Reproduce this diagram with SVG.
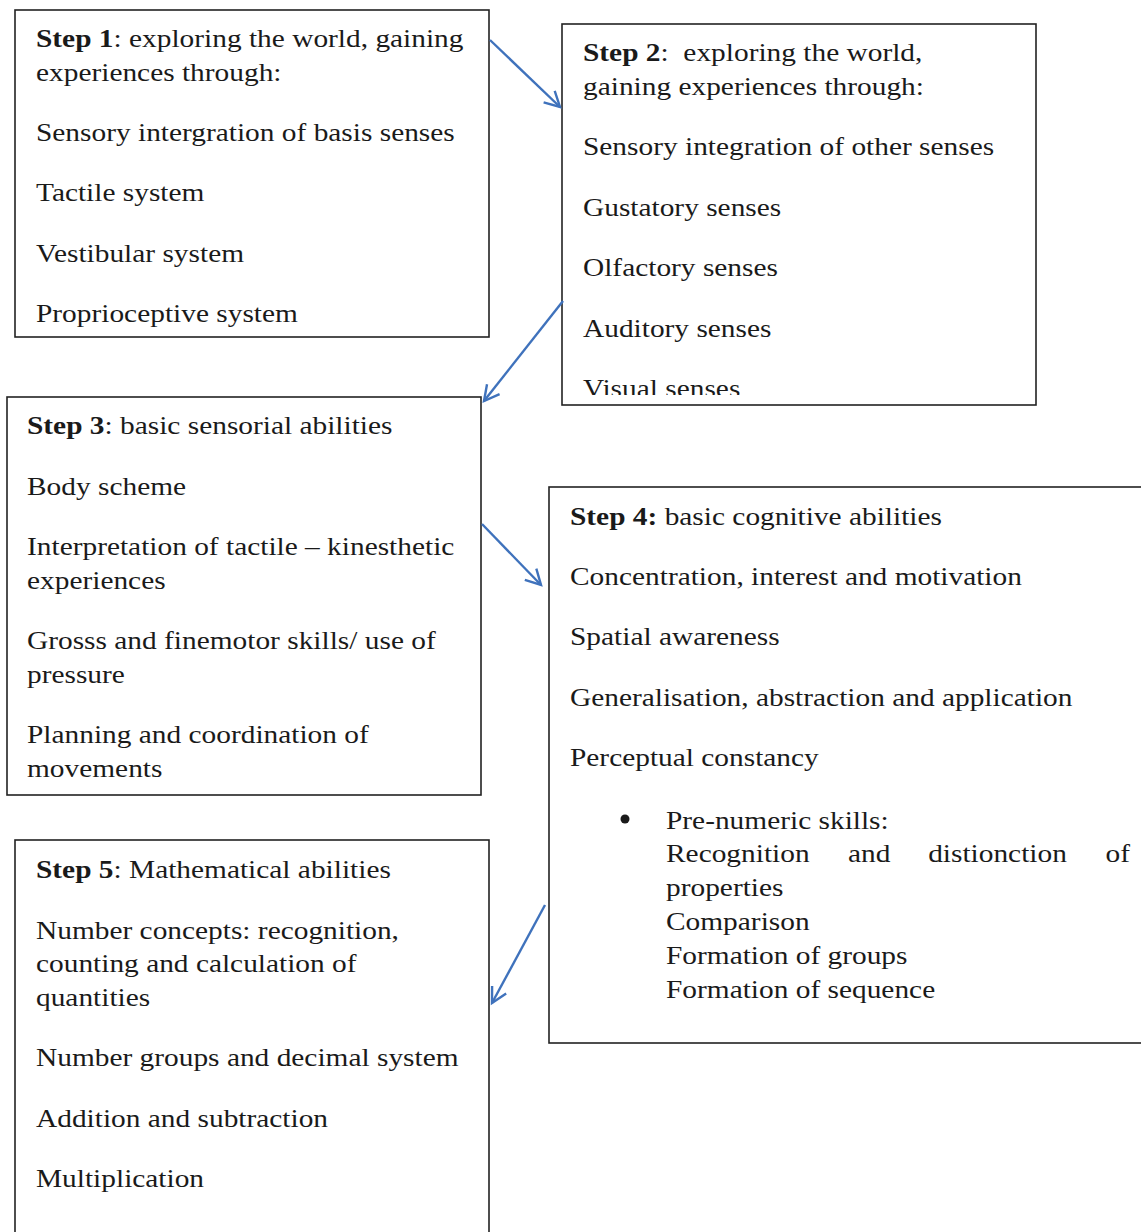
<svg xmlns="http://www.w3.org/2000/svg" width="1141" height="1232" viewBox="0 0 1141 1232">
<style>
.box{fill:#fff;stroke:#222;stroke-width:1.6}
text{font-family:"Liberation Serif","Times New Roman",serif;font-size:26px;fill:#1a1a1a}
.b{font-weight:bold}
.arr{fill:none;stroke:#3f72bc;stroke-width:2.4;marker-end:url(#ah)}
</style>
<defs>
<marker id="ah" markerUnits="userSpaceOnUse" markerWidth="20" markerHeight="20" viewBox="0 0 20 20" refX="17" refY="10" orient="auto">
<path d="M2,2 L17,10 L2,18" fill="none" stroke="#3f72bc" stroke-width="2.4"/>
</marker>
<clipPath id="c2"><rect x="562" y="24" width="474" height="371"/></clipPath>
</defs>
<rect width="1141" height="1232" fill="#fff"/>
<g id="step1">
<rect class="box" x="15" y="10" width="474" height="327"/>
<g transform="translate(36,0) scale(1.13,1)">
<text x="0" y="47"><tspan class="b">Step 1</tspan>: exploring the world, gaining</text>
<text x="0" y="81">experiences through:</text>
<text x="0" y="141">Sensory intergration of basis senses</text>
<text x="0" y="201">Tactile system</text>
<text x="0" y="262">Vestibular system</text>
<text x="0" y="322">Proprioceptive system</text>
</g>
</g>
<g id="step2">
<rect class="box" x="562" y="24" width="474" height="381"/>
<g clip-path="url(#c2)">
<g transform="translate(583,0) scale(1.13,1)">
<text x="0" y="61" xml:space="preserve"><tspan class="b">Step 2</tspan>:  exploring the world,</text>
<text x="0" y="95">gaining experiences through:</text>
<text x="0" y="155">Sensory integration of other senses</text>
<text x="0" y="216">Gustatory senses</text>
<text x="0" y="276">Olfactory senses</text>
<text x="0" y="337">Auditory senses</text>
<text x="0" y="397">Visual senses</text>
</g>
</g>
</g>
<g id="step3">
<rect class="box" x="7" y="397" width="474" height="398"/>
<g transform="translate(27,0) scale(1.13,1)">
<text x="0" y="434"><tspan class="b">Step 3</tspan>: basic sensorial abilities</text>
<text x="0" y="495">Body scheme</text>
<text x="0" y="555">Interpretation of tactile – kinesthetic</text>
<text x="0" y="589">experiences</text>
<text x="0" y="649">Grosss and finemotor skills/ use of</text>
<text x="0" y="683">pressure</text>
<text x="0" y="743">Planning and coordination of</text>
<text x="0" y="777">movements</text>
</g>
</g>
<g id="step4">
<rect class="box" x="549" y="487" width="600" height="556"/>
<g transform="translate(570,0) scale(1.13,1)">
<text x="0" y="525"><tspan class="b">Step 4:</tspan> basic cognitive abilities</text>
<text x="0" y="585">Concentration, interest and motivation</text>
<text x="0" y="645">Spatial awareness</text>
<text x="0" y="706">Generalisation, abstraction and application</text>
<text x="0" y="766">Perceptual constancy</text>
</g>
<circle cx="625" cy="819" r="4.5" fill="#1a1a1a"/>
<g transform="translate(666,0) scale(1.13,1)">
<text x="0" y="829">Pre-numeric skills:</text>
<text y="862"><tspan x="0">Recognition</tspan><tspan x="161">and</tspan><tspan x="232">distionction</tspan><tspan x="389">of</tspan></text>
<text x="0" y="896">properties</text>
<text x="0" y="930">Comparison</text>
<text x="0" y="964">Formation of groups</text>
<text x="0" y="998">Formation of sequence</text>
</g>
</g>
<g id="step5">
<rect class="box" x="15" y="840" width="474" height="420"/>
<g transform="translate(36,0) scale(1.13,1)">
<text x="0" y="878"><tspan class="b">Step 5</tspan>: Mathematical abilities</text>
<text x="0" y="939">Number concepts: recognition,</text>
<text x="0" y="972">counting and calculation of</text>
<text x="0" y="1006">quantities</text>
<text x="0" y="1066">Number groups and decimal system</text>
<text x="0" y="1127">Addition and subtraction</text>
<text x="0" y="1187">Multiplication</text>
</g>
</g>
<g id="connectors">
<line class="arr" x1="490" y1="40" x2="560" y2="107"/>
<line class="arr" x1="563" y1="301" x2="484" y2="401"/>
<line class="arr" x1="482" y1="524" x2="541" y2="585"/>
<line class="arr" x1="545" y1="905" x2="492" y2="1003"/>
</g>
</svg>
